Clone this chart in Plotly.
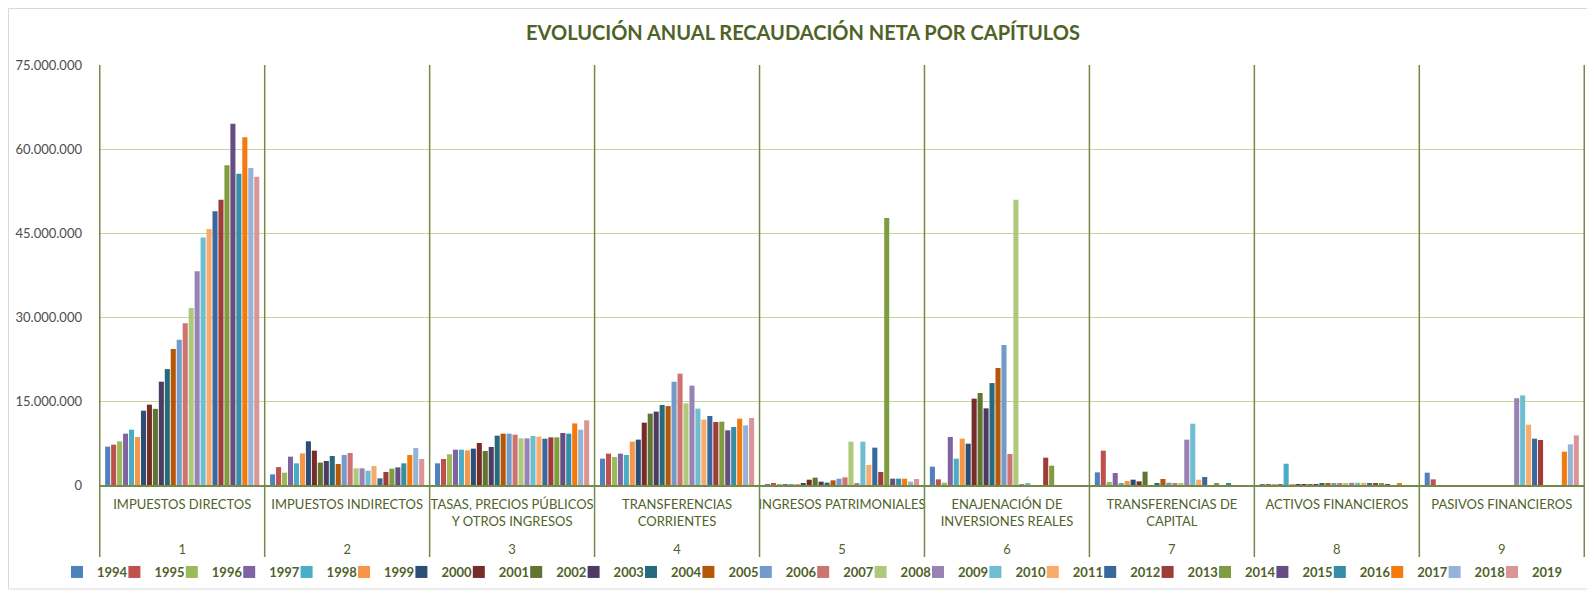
import plotly.graph_objects as go

years = [str(y) for y in range(1994, 2020)]
cap_nums = ["1", "2", "3", "4", "5", "6", "7", "8", "9"]
cap_names = [
    "IMPUESTOS DIRECTOS",
    "IMPUESTOS INDIRECTOS",
    "TASAS, PRECIOS PÚBLICOS<br>Y OTROS INGRESOS",
    "TRANSFERENCIAS<br>CORRIENTES",
    "INGRESOS PATRIMONIALES",
    "ENAJENACIÓN DE<br>INVERSIONES REALES",
    "TRANSFERENCIAS DE<br>CAPITAL",
    "ACTIVOS FINANCIEROS",
    "PASIVOS FINANCIEROS",
]

# values in millions of euros, one list per chapter (1994..2019)
cap1 = [6.85, 7.2, 7.8, 9.17, 9.88, 8.57, 13.27, 14.35, 13.6, 18.45, 20.7, 24.3, 25.95,
        28.9, 31.6, 38.15, 44.2, 45.7, 48.9, 50.95, 57.1, 64.5, 55.6, 62.1, 56.6, 55.06]
cap2 = [1.9, 3.2, 2.2, 5.06, 3.87, 5.65, 7.8, 6.13, 4.0, 4.29, 5.18, 3.75, 5.36,
        5.71, 2.98, 2.98, 2.56, 3.39, 1.19, 2.32, 2.92, 3.15, 3.87, 5.36, 6.6, 4.64]
cap3 = [3.87, 4.64, 5.48, 6.31, 6.31, 6.19, 6.49, 7.5, 6.07, 6.79, 8.81, 9.17, 9.17,
        8.99, 8.33, 8.33, 8.75, 8.63, 8.27, 8.51, 8.51, 9.29, 9.17, 11.0, 9.88, 11.55]
cap4 = [4.7, 5.6, 5.0, 5.6, 5.36, 7.74, 8.1, 11.13, 12.74, 13.1, 14.29, 14.1, 18.45,
        19.88, 14.58, 17.74, 13.63, 11.67, 12.32, 11.25, 11.31, 9.76, 10.36, 11.85, 10.65, 11.96]
cap5 = [0.15, 0.18, 0.15, 0.15, 0.15, 0.15, 0.3, 0.95, 1.31, 0.6, 0.42, 0.83, 1.13,
        1.37, 7.74, 0.36, 7.74, 3.57, 6.67, 2.32, 47.7, 1.13, 1.13, 1.13, 0.6, 1.07]
cap6 = [3.27, 1.01, 0.42, 8.57, 4.7, 8.27, 7.38, 15.42, 16.43, 13.69, 18.2, 20.9, 25.0,
        5.54, 50.95, 0.1, 0.18, 0, 0, 4.88, 3.45, 0, 0, 0, 0, 0]
cap7 = [2.26, 6.13, 0.54, 2.14, 0.36, 0.71, 0.95, 0.65, 2.38, 0, 0.24, 1.07, 0.42,
        0.24, 0.24, 8.1, 10.95, 0.95, 1.43, 0, 0.18, 0, 0.18, 0, 0, 0]
cap8 = [0.05, 0.05, 0.1, 0.1, 3.8, 0.05, 0.1, 0.1, 0.15, 0.15, 0.2, 0.25, 0.2,
        0.25, 0.35, 0.4, 0.4, 0.4, 0.35, 0.35, 0.35, 0.1, 0, 0.2, 0, 0]
cap9 = [2.2, 1.01, 0, 0, 0, 0, 0, 0, 0, 0, 0, 0, 0,
        0, 0, 15.5, 16.0, 10.77, 8.27, 8.04, 0, 0, 0, 5.95, 7.26, 8.87]

caps = [cap1, cap2, cap3, cap4, cap5, cap6, cap7, cap8, cap9]

colors = ["#4F81BD", "#C0504D", "#9BBB59", "#8064A2", "#4BACC6", "#F79646",
          "#2C4D75", "#772C2A", "#5F7530", "#4D3B62", "#276A7C", "#B65708",
          "#729ACA", "#CD7371", "#AFC97A", "#9983B5", "#6FBDD1", "#F9AB6B",
          "#3A679C", "#9F3B38", "#7F9D40", "#664E83", "#358EA6", "#F57A0E",
          "#95B3D7", "#D99694"]

OLIVE = "#4F6228"
FONT = "Lato"

# pad every chapter label to three lines so the chapter numbers sit lower
inner_labels = [n + "<br>&nbsp;" if "<br>" in n else n + "<br>&nbsp;<br>&nbsp;"
                for n in cap_names]

fig = go.Figure()
for i, yr in enumerate(years):
    fig.add_trace(go.Bar(
        name=yr,
        x=[cap_nums, inner_labels],
        y=[c[i] * 1e6 for c in caps],
        marker=dict(color=colors[i], line=dict(width=0)),
    ))
# invisible spacer legend entry so the last year's label is not clipped
fig.add_trace(go.Bar(name="", x=[[cap_nums[0]], [inner_labels[0]]], y=[0],
                     visible="legendonly", hoverinfo="skip",
                     marker=dict(color="rgba(0,0,0,0)", line=dict(width=0))))

# figure geometry (pixels); the page body adds an 8px offset
OFF = 8
W, H = 1595 - OFF, 594 - OFF
L, R, T = 99 - OFF, 10, 65 - OFF
B = H - (485 - OFF)
pw, ph = W - L - R, H - T - B


def px_x(xw):  # window x -> paper x
    return (xw - OFF - L) / pw


def px_y(yw):  # window y -> paper y
    return (485 - yw) / ph


shapes = []
for k in range(len(cap_nums) + 1):
    shapes.append(dict(type="line", xref="x", yref="paper",
                       x0=k - 0.5, x1=k - 0.5, y0=px_y(560), y1=1,
                       line=dict(color="#76894A", width=1.5), layer="above"))
# outer chart border
shapes.append(dict(type="rect", xref="paper", yref="paper",
                   x0=px_x(OFF + 0.5), x1=px_x(1590),
                   y0=px_y(589), y1=px_y(OFF + 0.5),
                   line=dict(color="#D9D9D9", width=1), layer="below"))

fig.update_layout(
    width=W, height=H,
    margin=dict(l=L, r=R, t=T, b=B, autoexpand=False),
    paper_bgcolor="white", plot_bgcolor="white",
    barmode="group", bargap=0.06, bargroupgap=0.15,
    separators=",.",
    font=dict(family=FONT, color=OLIVE),
    title=dict(text="<b>EVOLUCIÓN ANUAL RECAUDACIÓN NETA POR CAPÍTULOS</b>",
               x=(803 - OFF) / W, xref="container", xanchor="center",
               y=1 - (33 - OFF) / H, yref="container", yanchor="middle",
               font=dict(family=FONT, size=20, color=OLIVE)),
    xaxis=dict(type="multicategory", showdividers=False, automargin=False,
               showline=True, linecolor="#76894A", linewidth=2,
               tickfont=dict(family=FONT, size=13, color=OLIVE),
               showgrid=False, ticks="", ticklabelstandoff=6),
    yaxis=dict(range=[0, 75e6], dtick=15e6, tickformat=",.0f", automargin=False,
               showgrid=True, gridcolor="#C3D69B", gridwidth=1,
               zeroline=False, showline=False,
               tickfont=dict(family=FONT, size=13, color="#4D4D4D"),
               ticks="", ticklabelstandoff=16),
    legend=dict(orientation="h", x=px_x(57), xanchor="left",
                y=px_y(572), yanchor="middle",
                font=dict(family=FONT, size=13, color=OLIVE, weight="bold"),
                entrywidth=12.4, entrywidthmode="pixels",
                itemwidth=30, traceorder="normal", itemclick=False,
                itemdoubleclick=False),
    shapes=shapes,
)

fig.write_html("out.html")
